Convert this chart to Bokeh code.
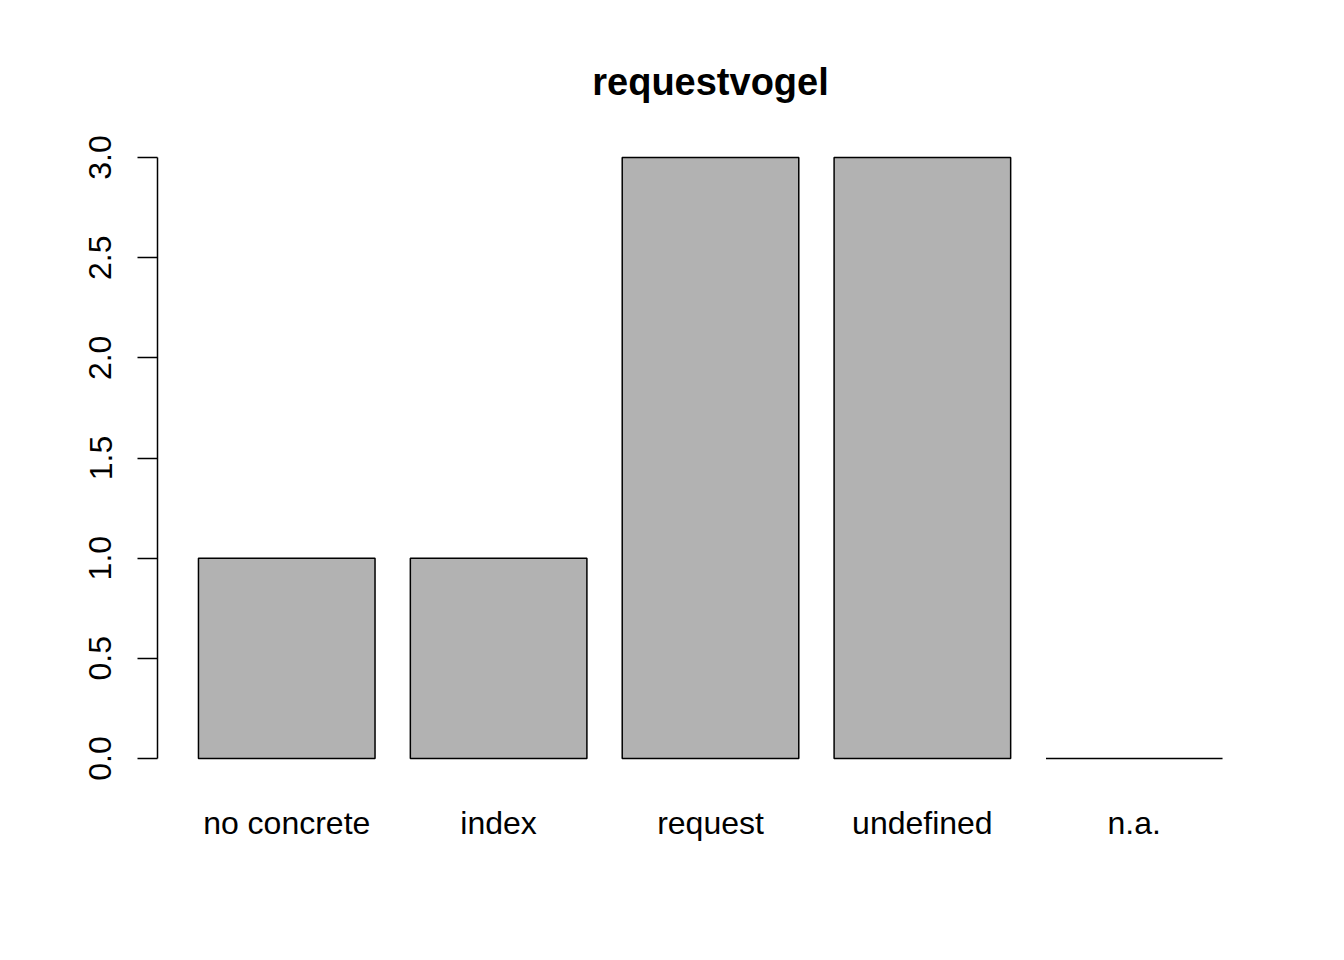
from bokeh.plotting import figure
from bokeh.models import Range1d, FixedTicker, ColumnDataSource
from bokeh.embed import file_html
from bokeh.resources import INLINE

categories = ["no concrete", "index", "request", "undefined", "n.a."]
counts = [1, 1, 3, 3, 0]
y_ticks = [0.0, 0.5, 1.0, 1.5, 2.0, 2.5, 3.0]
title_text = "requestvogel"

# R barplot geometry: width 1, space 0.2
bar_width = 1.0
space = 0.2
centers = [space + bar_width / 2 + i * (bar_width + space) for i in range(len(categories))]
xlo = space
xhi = centers[-1] + bar_width / 2
xpad = 0.04 * (xhi - xlo)
ymax = max(counts)
ypad = 0.04 * ymax

src = ColumnDataSource(dict(x=centers, top=counts, name=categories))

p = figure(width=1344, height=960, output_backend="svg", toolbar_location=None,
           x_range=Range1d(xlo - xpad, xhi + xpad),
           y_range=Range1d(-ypad, ymax + ypad),
           min_border_left=157, min_border_right=81,
           min_border_top=133, min_border_bottom=178,
           title=title_text)

p.vbar(x="x", top="top", bottom=0, width=bar_width, source=src,
       fill_color="#B2B2B2", line_color="black", line_width=1.5)

p.title.text_font = "Liberation Sans"
p.title.text_font_size = "38px"
p.title.text_font_style = "bold"
p.title.text_color = "black"
p.title.align = "center"
p.title.standoff = 62

p.outline_line_color = None
p.xgrid.grid_line_color = None
p.ygrid.grid_line_color = None
p.background_fill_color = "white"
p.border_fill_color = "white"

# y axis
ya = p.yaxis[0]
ya.ticker = FixedTicker(ticks=y_ticks)
ya.major_label_overrides = {t: f"{t:.1f}" for t in y_ticks}
ya.bounds = (0, ymax)
ya.major_tick_in = 0
ya.major_tick_out = 20
ya.minor_tick_line_color = None
ya.axis_line_width = 1.5
ya.major_tick_line_width = 1.5
ya.major_label_orientation = "vertical"
ya.major_label_text_font = "Liberation Sans"
ya.major_label_text_font_size = "32px"
ya.major_label_text_color = "black"
ya.major_label_standoff = 26

# x axis: labels only
xa = p.xaxis[0]
xa.ticker = FixedTicker(ticks=centers)
xa.major_label_overrides = {c: n for c, n in zip(centers, categories)}
xa.axis_line_color = None
xa.major_tick_line_color = None
xa.minor_tick_line_color = None
xa.major_label_text_font = "Liberation Sans"
xa.major_label_text_font_size = "32px"
xa.major_label_text_color = "black"
xa.major_label_standoff = 16

open("out.html", "w").write(file_html(p, INLINE))
